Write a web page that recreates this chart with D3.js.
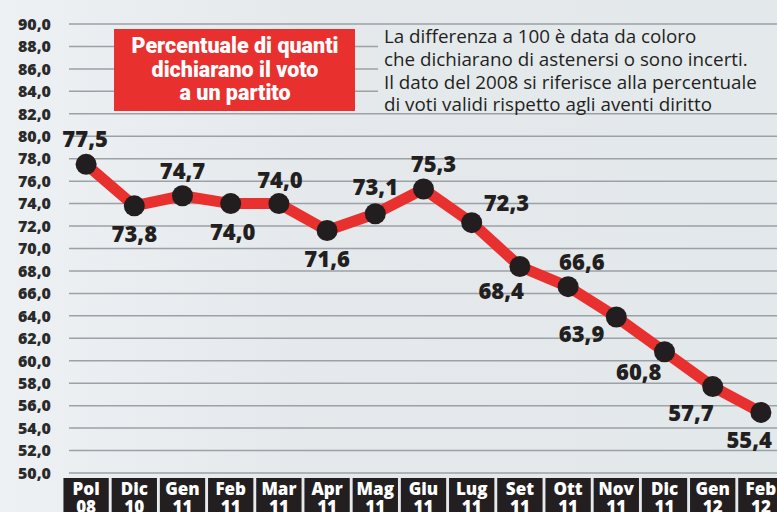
<!DOCTYPE html>
<html>
<head>
<meta charset="utf-8">
<script src="https://cdn.jsdelivr.net/npm/d3@7"></script>
<style>
  body { margin: 0; background: #e6eaed; }
  svg { display: block; }
  .grid line { stroke: #9ba1a7; stroke-width: 1.5; }
  .ytick { font-family: "Open Sans", sans-serif; font-weight: 800; font-size: 16px; fill: #2b2a2b; }
  .vlabel { font-family: "Open Sans", sans-serif; font-weight: 800; font-size: 22px; fill: #231f20; }
  .cat { font-family: "Open Sans", sans-serif; font-weight: 800; font-size: 17px; fill: #fff; }
</style>
</head>
<body>
<div id="vis-container"></div>
<script>
let width_chart = 777;
let height_chart = 512;

// data
let months = ["Pol", "Dic", "Gen", "Feb", "Mar", "Apr", "Mag", "Giu", "Lug", "Set", "Ott", "Nov", "Dic", "Gen", "Feb"];
let years = ["08", "10", "11", "11", "11", "11", "11", "11", "11", "11", "11", "11", "11", "12", "12"];
let values = [77.5, 73.8, 74.7, 74.0, 74.0, 71.6, 73.1, 75.3, 72.3, 68.4, 66.6, 63.9, 60.8, 57.7, 55.4];
let y_ticks = d3.range(50, 90.1, 2);
let title_lines = ["Percentuale di quanti", "dichiarano il voto", "a un partito"];
let note_lines = ["La differenza a 100 è data da coloro",
                  "che dichiarano di astenersi o sono incerti.",
                  "Il dato del 2008 si riferisce alla percentuale",
                  "di voti validi rispetto agli aventi diritto"];

// where each value label sits relative to its dot: [dx, dy, anchor]
let label_place = [[-1, -17, "middle"], [0, 36, "middle"], [0, -17, "middle"], [2, 36, "middle"],
                   [1, -16, "middle"], [0, 36, "middle"], [0, -19, "middle"], [10, -17, "middle"],
                   [12, -12, "start"], [4, 33, "end"], [-9, -17, "start"], [-12, 25, "end"],
                   [-3, 28, "end"], [1, 34, "end"], [11, 36, "end"]];

let fmt = v => d3.format(".1f")(v).replace(".", ",");

let svg = d3.select("#vis-container").append("svg")
  .attr("width", width_chart)
  .attr("height", height_chart);

// background with a faint light wash on the left
let defs = svg.append("defs");
let grad = defs.append("linearGradient").attr("id", "bg").attr("x1", 0).attr("x2", 1);
grad.append("stop").attr("offset", 0).attr("stop-color", "#eef1f3");
grad.append("stop").attr("offset", 0.4).attr("stop-color", "#e5e9ec");
grad.append("stop").attr("offset", 1).attr("stop-color", "#e3e8eb");
svg.append("rect").attr("width", width_chart).attr("height", height_chart).attr("fill", "url(#bg)");

let y = d3.scaleLinear().domain([50, 90]).range([473, 24]);
let x = d3.scaleBand().domain(d3.range(values.length)).range([62, 785]).paddingInner(0.06).paddingOuter(0.03);
let cx = i => x(i) + x.bandwidth() / 2;

// grid lines
svg.append("g").attr("class", "grid")
  .selectAll("line").data(y_ticks).enter().append("line")
  .attr("x1", 69).attr("x2", width_chart)
  .attr("y1", d => y(d)).attr("y2", d => y(d));

// y labels
svg.append("g").selectAll("text").data(y_ticks).enter().append("text")
  .attr("class", "ytick")
  .attr("x", 51).attr("y", d => y(d))
  .attr("dy", "0.36em")
  .attr("text-anchor", "end")
  .text(fmt);

// title box
svg.append("rect").attr("x", 114).attr("y", 29).attr("width", 241).attr("height", 82).attr("fill", "#e8302f");
svg.append("g").selectAll("text").data(title_lines).enter().append("text")
  .attr("x", 235).attr("y", (d, i) => 53 + i * 23.5)
  .attr("text-anchor", "middle")
  .style("font-family", "Roboto, sans-serif")
  .style("font-weight", 900).style("font-size", "21.5px").style("fill", "#fff")
  .text(d => d);

// note box
svg.append("rect").attr("x", 378).attr("y", 26).attr("width", 400).attr("height", 85).attr("fill", "#e4e9ec");
svg.append("g").selectAll("text").data(note_lines).enter().append("text")
  .attr("x", 384).attr("y", (d, i) => 43 + i * 22.8)
  .style("font-family", "'Open Sans', sans-serif")
  .style("font-size", "18.8px").style("fill", "#231f20")
  .text(d => d);

// line
let line = d3.line().x((d, i) => cx(i)).y(d => y(d));
svg.append("path").datum(values)
  .attr("d", line)
  .attr("fill", "none")
  .attr("stroke", "#e8302f")
  .attr("stroke-width", 11)
  .attr("stroke-linejoin", "round");

svg.append("g").selectAll("circle").data(values).enter().append("circle")
  .attr("cx", (d, i) => cx(i)).attr("cy", d => y(d)).attr("r", 10.5)
  .attr("fill", "#221e1f");

// value labels
svg.append("g").selectAll("text").data(values).enter().append("text")
  .attr("class", "vlabel")
  .attr("x", (d, i) => cx(i) + label_place[i][0])
  .attr("y", (d, i) => y(d) + label_place[i][1])
  .attr("text-anchor", (d, i) => label_place[i][2])
  .text(fmt);

// category boxes
let cat = svg.append("g").selectAll("g").data(months).enter().append("g")
  .attr("transform", (d, i) => `translate(${x(i)},478)`);
cat.append("rect").attr("width", x.bandwidth()).attr("height", 40).attr("fill", "#231f20");
cat.append("text").attr("class", "cat")
  .attr("x", x.bandwidth() / 2).attr("y", 17).attr("text-anchor", "middle")
  .text(d => d);
cat.append("text").attr("class", "cat")
  .attr("x", x.bandwidth() / 2).attr("y", 35).attr("text-anchor", "middle")
  .text((d, i) => years[i]);
</script>
</body>
</html>
